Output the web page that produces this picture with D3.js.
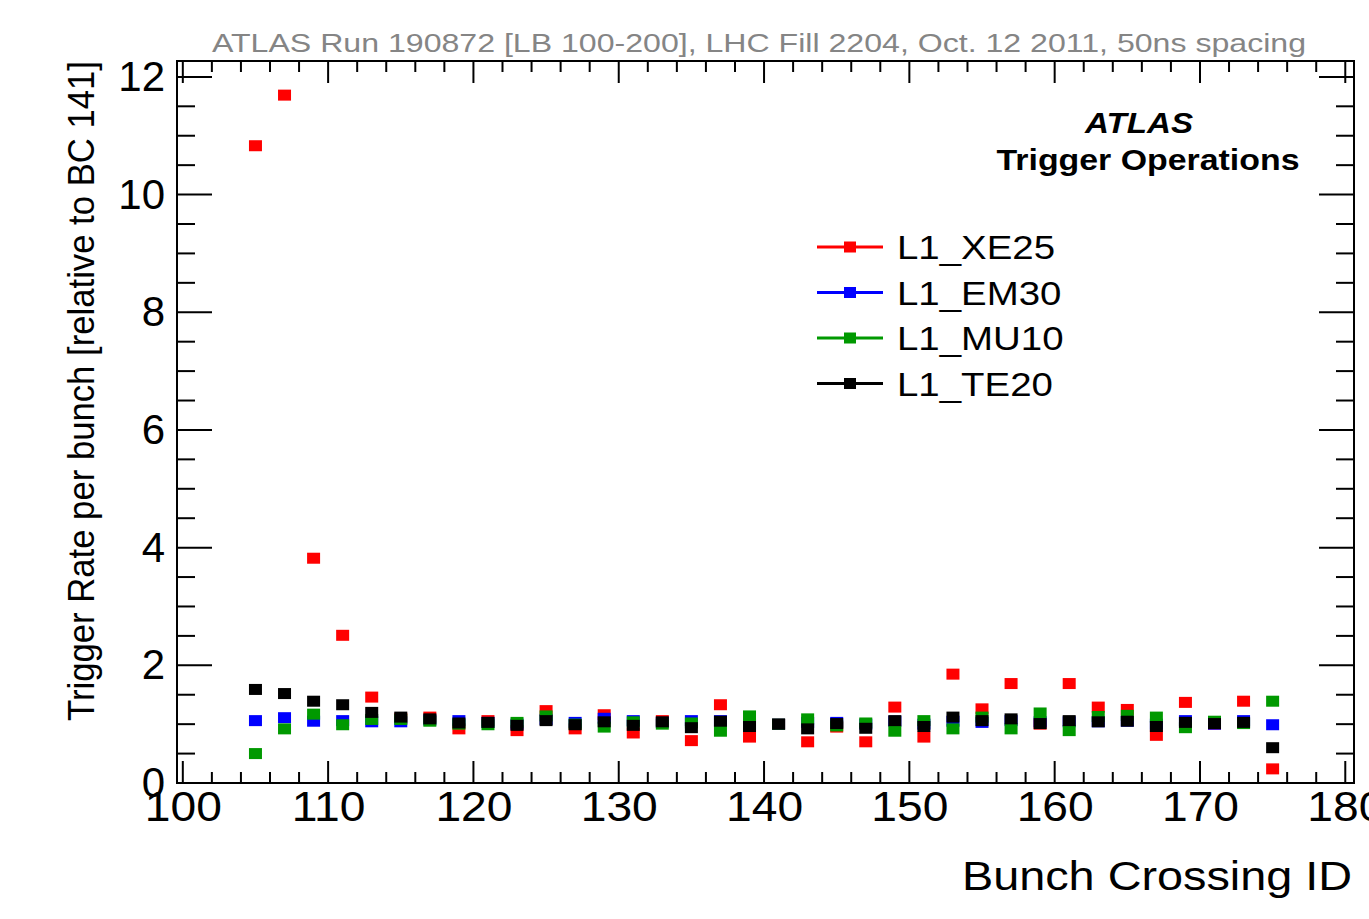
<!DOCTYPE html>
<html>
<head>
<meta charset="utf-8">
<script src="https://cdn.jsdelivr.net/npm/d3@7"></script>
<style>
  html, body { margin: 0; padding: 0; background: #fff; }
  svg { display: block; }
  text { font-family: "Liberation Sans", Arial, Helvetica, sans-serif; }
</style>
</head>
<body>
<svg id="chart" width="1369" height="919"></svg>
<script>
// Bunch crossing IDs (odd BCs in the train)
const bunchIds = [105, 107, 109, 111, 113, 115, 117, 119, 121, 123, 125, 127, 129, 131, 133, 135, 137,
                  139, 141, 143, 145, 147, 149, 151, 153, 155, 157, 159, 161, 163, 165, 167, 169, 171, 173, 175];

// Per-bunch trigger rate, relative to BC 141
const rateXE25 = [10.83, 11.69, 3.82, 2.51, 1.46, 1.10, 1.12, 0.92, 1.06, 0.89, 1.23, 0.92, 1.16, 0.85, 1.06, 0.72, 1.33,
                  0.78, 1.00, 0.70, 0.95, 0.70, 1.29, 0.78, 1.85, 1.26, 1.69, 1.00, 1.69, 1.29, 1.25, 0.81, 1.37, 1.00, 1.39, 0.24];
const rateEM30 = [1.06, 1.11, 1.05, 1.06, 1.04, 1.04, 1.07, 1.06, 1.03, 1.00, 1.08, 1.03, 1.10, 1.06, 1.03, 1.06, 1.06,
                  1.00, 1.00, 1.03, 1.03, 1.00, 1.05, 1.00, 1.05, 1.03, 1.06, 1.04, 1.04, 1.04, 1.05, 1.00, 1.06, 1.00, 1.06, 0.99];
const rateMU10 = [0.50, 0.92, 1.17, 0.99, 1.08, 1.08, 1.05, 1.00, 0.99, 1.03, 1.14, 1.00, 0.95, 1.04, 1.00, 1.02, 0.88,
                  1.14, 1.00, 1.09, 0.97, 1.02, 0.88, 1.06, 0.92, 1.12, 0.92, 1.19, 0.89, 1.13, 1.15, 1.12, 0.94, 1.05, 1.01, 1.39];
const rateTE20 = [1.59, 1.52, 1.39, 1.33, 1.20, 1.12, 1.09, 1.02, 1.03, 0.98, 1.06, 0.99, 1.04, 0.98, 1.04, 0.94, 1.05,
                  0.96, 1.00, 0.92, 1.01, 0.93, 1.06, 0.96, 1.12, 1.06, 1.09, 1.01, 1.06, 1.04, 1.05, 0.96, 1.03, 1.01, 1.03, 0.60];

const seriesNames  = ["L1_XE25", "L1_EM30", "L1_MU10", "L1_TE20"];
const seriesColors = ["#ff0000", "#0000ff", "#009900", "#000000"];
const seriesValues = [rateXE25, rateEM30, rateMU10, rateTE20];

const xTickValues = [100, 110, 120, 130, 140, 150, 160, 170, 180];
const yTickValues = [0, 2, 4, 6, 8, 10, 12];

const titleText = "ATLAS Run 190872 [LB 100-200], LHC Fill 2204, Oct. 12 2011, 50ns spacing";
const xTitle = "Bunch Crossing ID";
const yTitle = "Trigger Rate per bunch [relative to BC 141]";

const svg = d3.select("#chart");

// Widen a text horizontally by a factor (the lettering is a bit broader than the font's own width)
function widen(sel, factor) {
  sel.each(function () {
    const w = this.getComputedTextLength();
    d3.select(this).attr("textLength", w * factor).attr("lengthAdjust", "spacingAndGlyphs");
  });
}

const frame = { left: 177, right: 1354, top: 61, bottom: 783 };
const x = d3.scaleLinear().domain([99.6, 180.6]).range([frame.left, frame.right]);
const y = d3.scaleLinear().domain([0, 12.27]).range([frame.bottom, frame.top]);

// Inward ticks on all four sides
const minorX = d3.range(100, 181, 2);
const minorY = d3.range(0, 12.01, 0.5);
const g = svg.append("g").attr("stroke", "#000").attr("stroke-width", 2).attr("fill", "none");

minorX.forEach(v => {
  const major = xTickValues.includes(v);
  const len = major ? 22 : 11;
  g.append("line").attr("x1", x(v)).attr("x2", x(v)).attr("y1", frame.bottom).attr("y2", frame.bottom - len);
  g.append("line").attr("x1", x(v)).attr("x2", x(v)).attr("y1", frame.top).attr("y2", frame.top + len);
});
minorY.forEach(v => {
  const major = yTickValues.includes(v);
  const len = major ? 35 : 18;
  g.append("line").attr("y1", y(v)).attr("y2", y(v)).attr("x1", frame.left).attr("x2", frame.left + len);
  g.append("line").attr("y1", y(v)).attr("y2", y(v)).attr("x1", frame.right).attr("x2", frame.right - len);
});

// Tick labels from the D3 axis generators (tick lines hidden, labels kept)
const xAxis = d3.axisBottom(x).tickValues(xTickValues).tickSize(0).tickPadding(8).tickFormat(d3.format("d"));
svg.append("g").attr("transform", `translate(0,${frame.bottom})`).call(xAxis)
  .call(s => s.select(".domain").remove())
  .selectAll("text").attr("font-size", 42).attr("fill", "#000")
  .attr("font-family", "'Liberation Sans', Arial, sans-serif")
  .call(widen, 1.1);

const yAxis = d3.axisLeft(y).tickValues(yTickValues).tickSize(0).tickPadding(12).tickFormat(d3.format("d"));
svg.append("g").attr("transform", `translate(${frame.left},0)`).call(yAxis)
  .call(s => s.select(".domain").remove())
  .selectAll("text").attr("font-size", 42).attr("fill", "#000")
  .attr("font-family", "'Liberation Sans', Arial, sans-serif");

// Frame
svg.append("rect")
  .attr("x", frame.left).attr("y", frame.top)
  .attr("width", frame.right - frame.left).attr("height", frame.bottom - frame.top)
  .attr("fill", "none").attr("stroke", "#000").attr("stroke-width", 2);

// Markers, drawn in series order so black ends up on top
const mw = 13, mh = 11;
seriesValues.forEach((vals, si) => {
  svg.append("g").selectAll("rect").data(vals).join("rect")
    .attr("x", (d, i) => x(bunchIds[i]) - mw / 2)
    .attr("y", d => y(d) - mh / 2)
    .attr("width", mw).attr("height", mh)
    .attr("fill", seriesColors[si]);
});

// Titles
svg.append("text").attr("x", 759).attr("y", 52).attr("text-anchor", "middle")
  .attr("font-size", 26).attr("fill", "#858585").text(titleText)
  .attr("textLength", 1094).attr("lengthAdjust", "spacingAndGlyphs");

svg.append("text").attr("x", frame.right - 2).attr("y", 890).attr("text-anchor", "end")
  .attr("font-size", 40).attr("fill", "#000").text(xTitle)
  .attr("textLength", 390).attr("lengthAdjust", "spacingAndGlyphs");

svg.append("text").attr("transform", `translate(94,${frame.top}) rotate(-90)`)
  .attr("text-anchor", "end").attr("font-size", 36).attr("fill", "#000").text(yTitle)
  .attr("textLength", 660).attr("lengthAdjust", "spacingAndGlyphs");

// ATLAS label
svg.append("text").attr("x", 1139).attr("y", 133).attr("text-anchor", "middle")
  .attr("font-size", 29).attr("font-weight", "bold").attr("font-style", "italic").text("ATLAS")
  .attr("textLength", 108).attr("lengthAdjust", "spacingAndGlyphs");
svg.append("text").attr("x", 1148).attr("y", 170).attr("text-anchor", "middle")
  .attr("font-size", 29).attr("font-weight", "bold").text("Trigger Operations")
  .attr("textLength", 303).attr("lengthAdjust", "spacingAndGlyphs");

// Legend
const legend = svg.append("g");
seriesNames.forEach((name, i) => {
  const ly = 247 + i * 45.5;
  legend.append("line").attr("x1", 817).attr("x2", 883).attr("y1", ly).attr("y2", ly)
    .attr("stroke", seriesColors[i]).attr("stroke-width", 3);
  legend.append("rect").attr("x", 850 - 6).attr("y", ly - 5.5).attr("width", 12).attr("height", 11)
    .attr("fill", seriesColors[i]);
  legend.append("text").attr("x", 897).attr("y", ly + 12).attr("font-size", 34).attr("fill", "#000").text(name)
    .call(widen, 1.13);
});
</script>
</body>
</html>
